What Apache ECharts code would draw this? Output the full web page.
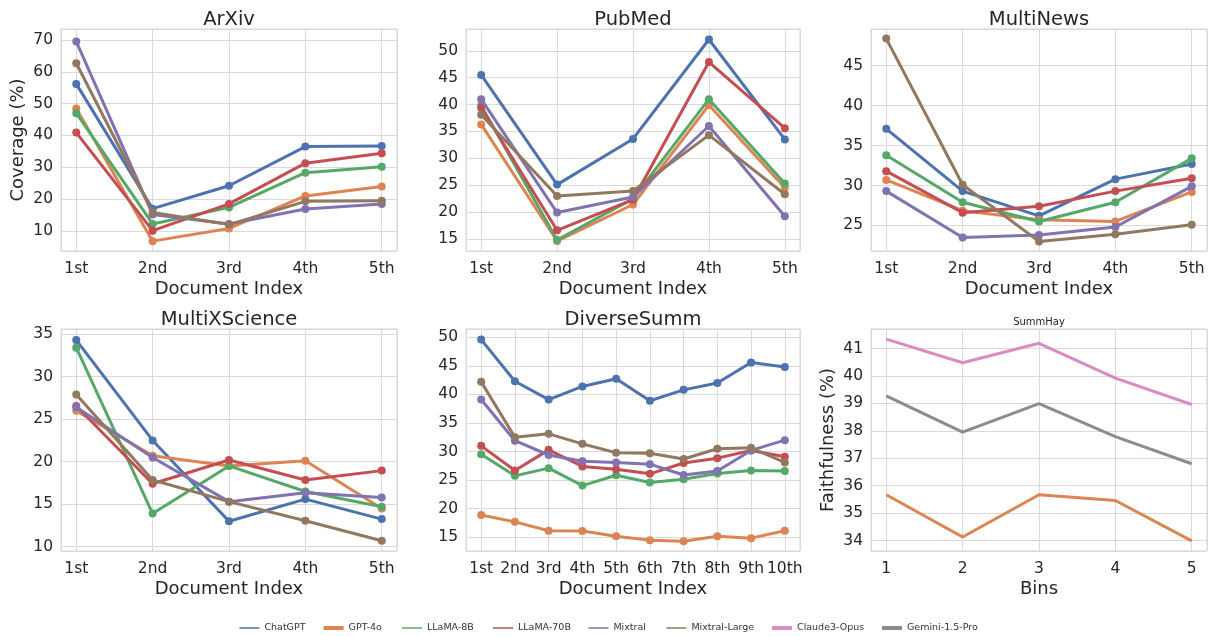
<!DOCTYPE html>
<html><head><meta charset="utf-8">
<script src="https://cdn.jsdelivr.net/npm/echarts@6/dist/echarts.min.js"></script>
<style>html,body{margin:0;padding:0;background:#fff}#c{width:1217px;height:636px}</style>
</head><body><div id="c"></div>
<script>
// ---------------- DATA ----------------
const models = ['ChatGPT', 'GPT-4o', 'LLaMA-8B', 'LLaMA-70B', 'Mixtral', 'Mixtral-Large'];
const summHayModels = ['GPT-4o', 'Claude3-Opus', 'Gemini-1.5-Pro'];
const legendNames = ['ChatGPT', 'GPT-4o', 'LLaMA-8B', 'LLaMA-70B', 'Mixtral', 'Mixtral-Large', 'Claude3-Opus', 'Gemini-1.5-Pro'];
const docIndex5 = ['1st', '2nd', '3rd', '4th', '5th'];
const docIndex10 = ['1st', '2nd', '3rd', '4th', '5th', '6th', '7th', '8th', '9th', '10th'];
const bins = ['1', '2', '3', '4', '5'];

// rows follow `models` order
const arxiv = [
  [56.2, 17.0, 24.2, 36.5, 36.7],
  [48.5, 6.8, 10.8, 21.0, 24.0],
  [47.0, 12.2, 17.4, 28.3, 30.2],
  [40.9, 10.1, 18.5, 31.3, 34.4],
  [69.5, 15.2, 12.2, 16.9, 18.5],
  [62.7, 15.8, 12.0, 19.3, 19.5]
];
const pubmed = [
  [45.5, 25.1, 33.6, 52.1, 33.5],
  [36.3, 14.6, 21.4, 39.9, 24.5],
  [39.8, 14.8, 22.5, 41.0, 25.3],
  [39.4, 16.6, 22.3, 47.9, 35.6],
  [41.0, 19.9, 22.8, 36.0, 19.2],
  [38.1, 23.0, 23.9, 34.3, 23.3]
];
const multinews = [
  [37.1, 29.3, 26.2, 30.8, 32.7],
  [30.7, 26.85, 25.7, 25.5, 29.2],
  [33.8, 27.9, 25.5, 27.9, 33.4],
  [31.8, 26.6, 27.4, 29.3, 30.9],
  [29.3, 23.5, 23.8, 24.8, 29.9],
  [48.4, 30.1, 23.0, 23.9, 25.1]
];
const multixscience = [
  [34.3, 22.5, 13.0, 15.6, 13.25],
  [26.0, 20.7, 19.5, 20.1, 14.5],
  [33.4, 13.9, 19.5, 16.5, 14.7],
  [26.55, 17.4, 20.2, 17.85, 18.95],
  [26.4, 20.5, 15.3, 16.35, 15.8],
  [27.9, 17.85, 15.3, 13.06, 10.7]
];
const diversesumm = [
  [49.6, 42.3, 39.1, 41.4, 42.75, 38.9, 40.8, 42.0, 45.6, 44.8],
  [18.9, 17.7, 16.15, 16.1, 15.2, 14.5, 14.3, 15.2, 14.85, 16.15],
  [29.55, 25.75, 27.1, 24.05, 25.85, 24.6, 25.15, 26.15, 26.7, 26.6],
  [31.0, 26.7, 30.3, 27.4, 26.9, 26.1, 28.0, 28.85, 30.2, 29.1],
  [39.1, 31.9, 29.4, 28.3, 28.1, 27.8, 25.9, 26.6, 30.2, 32.0],
  [42.2, 32.5, 33.1, 31.35, 29.8, 29.7, 28.7, 30.5, 30.65, 28.1]
];
// rows follow `summHayModels` order
const summhay = [
  [35.67, 34.13, 35.67, 35.46, 33.99],
  [41.34, 40.48, 41.19, 39.92, 38.96],
  [39.27, 37.95, 38.99, 37.79, 36.80]
];

// ---------------- STYLE / LAYOUT ----------------
const colors = {
  'ChatGPT': '#4C72B0', 'GPT-4o': '#DD8452', 'LLaMA-8B': '#55A868', 'LLaMA-70B': '#C44E52',
  'Mixtral': '#8172B3', 'Mixtral-Large': '#937860', 'Claude3-Opus': '#DA8BC3', 'Gemini-1.5-Pro': '#8C8C8C'
};
const FONT = 'DejaVu Sans';
const TXT = '#262626';
const GRIDC = '#dadada';

const panels = [
  {title: 'ArXiv', cats: docIndex5, rows: arxiv, names: models, box: [61, 29, 336, 222], y: [3.7, 73.45, 10], yName: 'Coverage (%)', xName: 'Document Index', marks: true},
  {title: 'PubMed', cats: docIndex5, rows: pubmed, names: models, box: [466, 29, 334, 222], y: [12.75, 54.05, 5], xName: 'Document Index', marks: true},
  {title: 'MultiNews', cats: docIndex5, rows: multinews, names: models, box: [871, 29, 336, 222], y: [21.8, 49.6, 5], xName: 'Document Index', marks: true},
  {title: 'MultiXScience', cats: docIndex5, rows: multixscience, names: models, box: [61, 329, 336, 222], y: [9.5, 35.6, 5], xName: 'Document Index', marks: true},
  {title: 'DiverseSumm', cats: docIndex10, rows: diversesumm, names: models, box: [466, 329, 334, 222], y: [12.6, 51.45, 5], xName: 'Document Index', marks: true},
  {title: 'SummHay', cats: bins, rows: summhay, names: summHayModels, box: [871, 329, 336, 222], y: [33.62, 41.71, 1], yName: 'Faithfulness (%)', xName: 'Bins', marks: false, smallTitle: true}
];

const isMult = (v, s) => Math.abs(v / s - Math.round(v / s)) < 1e-6;

const grid = [], xAxis = [], yAxis = [], series = [], title = [];
panels.forEach((p, i) => {
  const [L, T, W, H] = p.box;
  grid.push({left: L, top: T, width: W, height: H, show: true, borderColor: '#d2d2d2', borderWidth: 1, containLabel: false});
  const n = p.cats.length, pad = 0.05 * (n - 1);
  xAxis.push({
    type: 'value', gridIndex: i, min: -pad, max: n - 1 + pad, minInterval: 1, maxInterval: 1,
    axisLine: {show: false}, axisTick: {show: false},
    splitLine: {show: true, lineStyle: {color: GRIDC, width: 1}},
    axisLabel: {color: TXT, fontFamily: FONT, fontSize: 15.5, margin: 10,
      formatter: v => isMult(v, 1) ? (p.cats[Math.round(v)] || '') : ''},
    name: p.xName, nameLocation: 'middle', nameGap: 29,
    nameTextStyle: {color: TXT, fontFamily: FONT, fontSize: 18}
  });
  const [ymin, ymax, step] = p.y;
  yAxis.push({
    type: 'value', gridIndex: i, min: ymin, max: ymax, minInterval: step, maxInterval: step,
    axisLine: {show: false}, axisTick: {show: false},
    splitLine: {show: true, lineStyle: {color: GRIDC, width: 1}},
    axisLabel: {color: TXT, fontFamily: FONT, fontSize: 15.5, margin: 8,
      formatter: v => isMult(v, step) ? String(Math.round(v)) : ''},
    name: p.yName || '', nameLocation: 'middle', nameGap: 34,
    nameTextStyle: {color: TXT, fontFamily: FONT, fontSize: 18}
  });
  title.push({
    text: p.title, left: L + W / 2, textAlign: 'center', padding: 0,
    top: p.smallTitle ? T - 11.5 : T - 19,
    textStyle: {color: TXT, fontFamily: FONT, fontWeight: 'normal', fontSize: p.smallTitle ? 10 : 19.5}
  });
  p.rows.forEach((vals, k) => {
    const name = p.names[k];
    series.push({
      type: 'line', name: name, xAxisIndex: i, yAxisIndex: i,
      data: vals.map((v, j) => [j, v]),
      symbol: p.marks ? 'circle' : 'none', symbolSize: 8, showSymbol: p.marks,
      lineStyle: {width: 3, color: colors[name]},
      itemStyle: {color: colors[name]},
      emphasis: {disabled: true}, z: 2 + k
    });
  });
});

const thin = 'path://M0,0H20V1.5H0Z';
const thick = 'path://M0,0H20V4H0Z';
const legendLeft = [239.4, 323.6, 402, 493, 588.4, 666.4, 772, 882];
const thickSet = ['GPT-4o', 'Claude3-Opus', 'Gemini-1.5-Pro'];
const legend = legendNames.map((nm, i) => ({
  data: [{name: nm, icon: thickSet.includes(nm) ? thick : thin, itemStyle: {color: colors[nm]}}],
  left: legendLeft[i], top: 623, padding: 0, itemWidth: 20, itemHeight: 14, itemGap: 0,
  selectedMode: false,
  textStyle: {color: '#333', fontFamily: FONT, fontSize: 9.5}
}));

const chart = echarts.init(document.getElementById('c'), null, {renderer: 'canvas'});
chart.setOption({
  backgroundColor: '#ffffff', animation: false, textStyle: {fontFamily: FONT},
  title, grid, xAxis, yAxis, series, legend
});
</script></body></html>
